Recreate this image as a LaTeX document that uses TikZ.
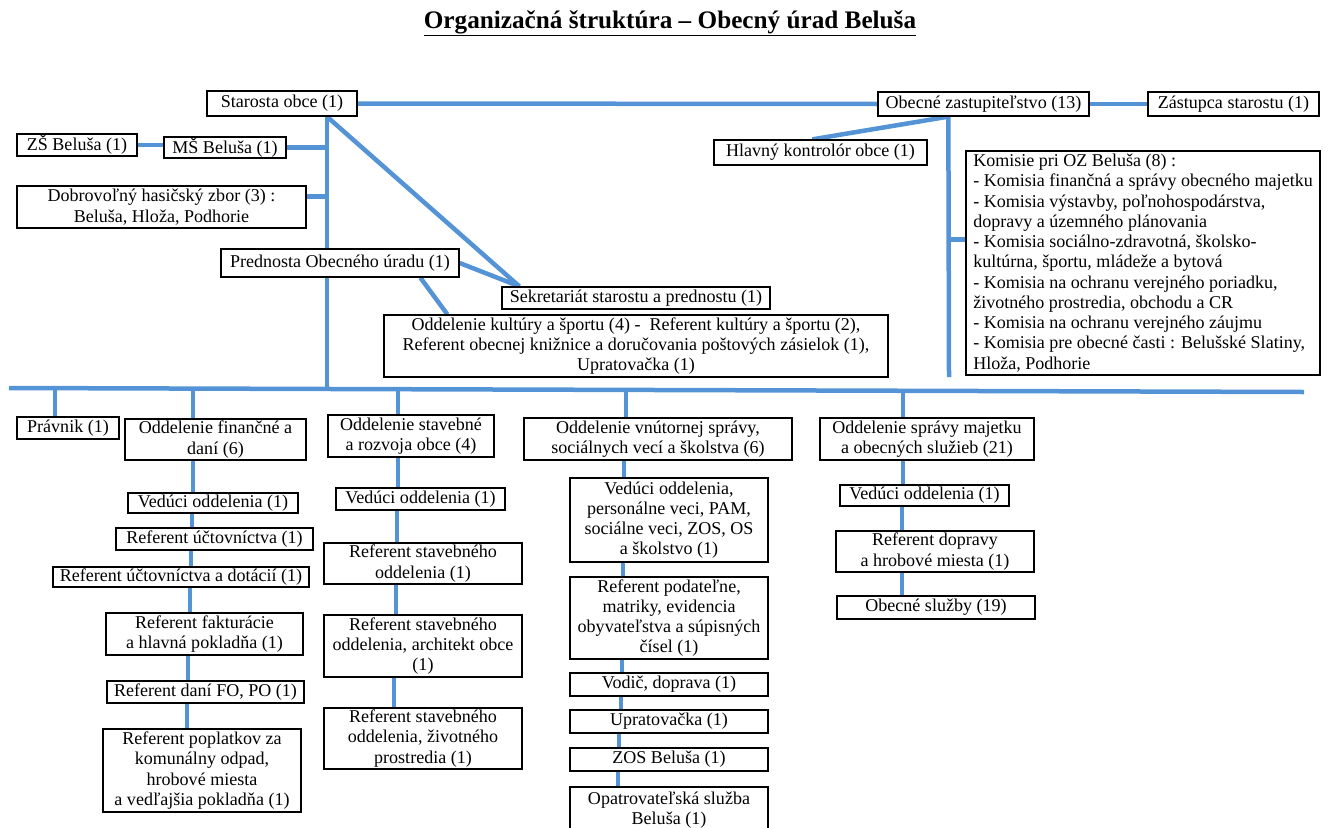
\documentclass[tikz,border=0pt]{standalone}
\usepackage{fontspec}
\setmainfont{Liberation Serif}
\usetikzlibrary{calc}
\definecolor{connblue}{RGB}{84,148,214}
\pgfdeclarelayer{bg}
\pgfsetlayers{bg,main}
\tikzset{
  ob/.style={draw=black, line width=1.3bp, fill=white, inner sep=0pt, align=center},
  obt/.style={ob, line width=1.8bp},
  cn/.style={draw=connblue, line width=4.5bp},
}
\newcommand\obox[7][]{\node[ob,#1,minimum width={#5bp-#3bp},minimum height={#6bp-#4bp}] (#2) at ({(#3+#5)/2},{(#4+#6)/2}) {#7};}
\newcommand\vlink[3]{\coordinate (vtmp) at (#3,0); \draw[cn] (#1.south -| vtmp) -- (#2.north -| vtmp);}
\begin{document}
\begin{tikzpicture}[x=1bp, y=-1bp, font=\fontsize{18.1}{20.3}\selectfont]
\useasboundingbox (0,0) rectangle (1328,827);
% title
\node[anchor=base, inner sep=0pt] (title) at (670,28) {\fontsize{25.3}{30}\selectfont\bfseries\underline{Organizačná štruktúra – Obecný úrad Beluša}};
% top part
\obox{starosta}{207}{91}{357}{116}{Starosta obce (1)}
\obox{oz}{878}{92}{1089}{116}{Obecné zastupiteľstvo (13)}
\obox{zast}{1148}{92}{1319}{116}{Zástupca starostu (1)}
\obox{zs}{17}{134}{137}{156}{ZŠ Beluša (1)}
\obox{ms}{164}{137}{286}{158}{MŠ Beluša (1)}
\obox{hk}{714}{140}{927}{165}{Hlavný kontrolór obce (1)}
\obox{dhz}{17}{186}{306}{228}{Dobrovoľný hasičský zbor (3) :\\Beluša, Hloža, Podhorie}
\obox{prednosta}{221}{249}{459}{277}{Prednosta Obecného úradu (1)}
\obox{sekr}{502}{287}{770}{309}{Sekretariát starostu a prednostu (1)}
\obox{kult}{384}{315}{888}{377}{Oddelenie kultúry a športu (4) - \ Referent kultúry a športu (2),\\Referent obecnej knižnice a doručovania poštových zásielok (1),\\Upratovačka (1)}
\node[ob, align=left, minimum width=354bp, minimum height=224bp] (kom) at (1143,263) {Komisie pri OZ Beluša (8) :\\
- Komisia finančná a správy obecného majetku\\
- Komisia výstavby, poľnohospodárstva,\\
dopravy a územného plánovania\\
- Komisia sociálno-zdravotná, školsko-\\
kultúrna, športu, mládeže a bytová\\
- Komisia na ochranu verejného poriadku,\\
životného prostredia, obchodu a CR\\
- Komisia na ochranu verejného záujmu\\
- Komisia pre obecné časti : Belušské Slatiny,\\
Hloža, Podhorie};
% bottom columns
\obox{pravnik}{17}{417}{119}{439}{Právnik (1)}
\obox{fin}{125}{419}{306}{460}{Oddelenie finančné a\\daní (6)}
\obox{va}{128}{493}{298}{513}{Vedúci oddelenia (1)}
\obox{ru}{116}{528}{313}{550}{Referent účtovníctva (1)}
\obox{rd}{53}{567}{309}{587}{Referent účtovníctva a dotácií (1)}
\obox[obt]{rf}{106}{613}{303}{655}{Referent fakturácie\\a hlavná pokladňa (1)}
\obox[obt]{rdan}{107}{681}{304}{703}{Referent daní FO, PO (1)}
\obox[obt]{rpop}{103}{729}{301}{812}{Referent poplatkov za\\komunálny odpad,\\hrobové miesta\\a vedľajšia pokladňa (1)}
\obox{ost}{328}{415}{494}{457}{Oddelenie stavebné\\a rozvoja obce (4)}
\obox[obt]{vb}{336}{488}{505}{510}{Vedúci oddelenia (1)}
\obox{rsa}{324}{543}{522}{584}{Referent stavebného\\oddelenia (1)}
\obox{rsb}{324}{615}{522}{677}{Referent stavebného\\oddelenia, architekt obce\\(1)}
\obox{rsc}{324}{708}{522}{769}{Referent stavebného\\oddelenia, životného\\prostredia (1)}
\obox{ovs}{524}{418}{792}{460}{Oddelenie vnútornej správy,\\sociálnych vecí a školstva (6)}
\obox[obt]{vc}{570}{478}{768}{562}{Vedúci oddelenia,\\personálne veci, PAM,\\sociálne veci, ZOS, OS\\a školstvo (1)}
\obox[obt]{rp}{570}{577}{768}{659}{Referent podateľne,\\matriky, evidencia\\obyvateľstva a súpisných\\čísel (1)}
\obox[obt]{vod}{570}{673}{768}{696}{Vodič, doprava (1)}
\obox[obt]{upr}{570}{710}{768}{733}{Upratovačka (1)}
\obox[obt]{zos}{570}{748}{768}{771}{ZOS Beluša (1)}
\obox[obt]{opa}{570}{787}{768}{834}{Opatrovateľská služba\\Beluša (1)}
\obox{osm}{820}{418}{1034}{460}{Oddelenie správy majetku\\a obecných služieb (21)}
\obox[obt]{vd}{840}{485}{1009}{506}{Vedúci oddelenia (1)}
\obox{rdop}{836}{531}{1034}{572}{Referent dopravy\\a hrobové miesta (1)}
\obox{obs}{837}{596}{1035}{619}{Obecné služby (19)}
% connectors
\begin{pgfonlayer}{bg}
\coordinate (tA) at (327,0);
\coordinate (busL) at (9,388);
\coordinate (busR) at (1304,392);
\draw[cn] (busL) -- (busR);
\draw[cn] (starosta.east) -- (oz.west);
\draw[cn] (oz.east) -- (zast.west);
\draw[cn] (starosta.south -| tA) -- (prednosta.north -| tA);
\draw[cn] (zs.east) -- (zs.east -| ms.west);
\draw[cn] (ms.east) -- (ms.east -| tA);
\coordinate (dhzc) at ($(dhz.north east)+(0,11)$);
\draw[cn] (dhzc) -- (dhzc -| tA);
\coordinate (bA) at (327,389);
\draw[cn] (prednosta.south -| tA) -- (bA);
\coordinate (sekrc) at ($(sekr.north west)+(18,0)$);
\draw[cn] (starosta.south -| tA) -- (sekrc);
\draw[cn] (prednosta.east) -- (sekrc);
\draw[cn] ($(prednosta.south west)+(200,0)$) -- ($(kult.north west)+(64,0)$);
\coordinate (ozc) at ($(oz.south west)+(71,0)$);
\draw[cn] (ozc) -- ($(hk.north west)+(99,0)$);
\coordinate (ozend) at (949,377);
\draw[cn] (ozc) -- (ozend);
\coordinate (komc) at ($(kom.north west)+(0,89)$);
\draw[cn] (komc) -- (komc -| ozend);
% drops from the bus
\coordinate (d1) at (55,389);
\coordinate (d2) at (193,389);
\coordinate (d3) at (398,389);
\coordinate (d4) at (626,390);
\coordinate (d5) at (903,391);
\draw[cn] (d1) -- (pravnik.north -| d1);
\draw[cn] (d2) -- (fin.north -| d2);
\draw[cn] (d3) -- (ost.north -| d3);
\draw[cn] (d4) -- (ovs.north -| d4);
\draw[cn] (d5) -- (osm.north -| d5);
% column chains
\vlink{fin}{va}{193}
\vlink{va}{ru}{192}
\vlink{ru}{rd}{191}
\vlink{rd}{rf}{190}
\vlink{rf}{rdan}{188}
\vlink{rdan}{rpop}{187}
\vlink{ost}{vb}{398}
\vlink{vb}{rsa}{397}
\vlink{rsa}{rsb}{396}
\vlink{rsb}{rsc}{394}
\vlink{ovs}{vc}{624}
\vlink{vc}{rp}{623}
\vlink{rp}{vod}{622}
\vlink{vod}{upr}{621}
\vlink{upr}{zos}{619}
\vlink{zos}{opa}{618}
\vlink{osm}{vd}{903}
\vlink{vd}{rdop}{902}
\vlink{rdop}{obs}{902}
\end{pgfonlayer}
\end{tikzpicture}
\end{document}
